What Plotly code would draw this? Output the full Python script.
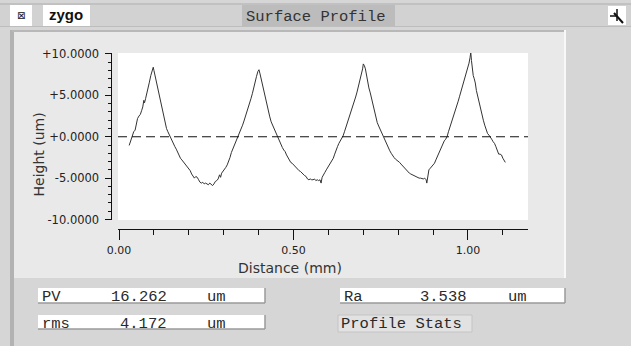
import plotly.graph_objects as go

W, H = 631, 346

# ---------------- data ----------------
distance_mm = [
    0.029, 0.034, 0.038, 0.042, 0.046, 0.050, 0.053, 0.057, 0.061, 0.065, 0.068, 0.071, 0.073, 0.076,
    0.080, 0.084, 0.087, 0.091, 0.095, 0.098, 0.100, 0.104, 0.108, 0.112, 0.116, 0.120, 0.124, 0.128,
    0.132, 0.136, 0.140, 0.144, 0.148, 0.152, 0.156, 0.160, 0.164, 0.168, 0.172, 0.176, 0.180, 0.184,
    0.188, 0.192, 0.196, 0.200, 0.204, 0.208, 0.212, 0.216, 0.220, 0.224, 0.228, 0.232, 0.236, 0.240,
    0.244, 0.248, 0.252, 0.256, 0.260, 0.264, 0.268, 0.272, 0.276, 0.280, 0.284, 0.288, 0.291, 0.294,
    0.298, 0.302, 0.306, 0.310, 0.314, 0.318, 0.322, 0.326, 0.330, 0.334, 0.338, 0.342, 0.346, 0.350,
    0.354, 0.358, 0.362, 0.366, 0.370, 0.374, 0.378, 0.382, 0.386, 0.390, 0.394, 0.398, 0.401, 0.404,
    0.408, 0.412, 0.416, 0.420, 0.424, 0.428, 0.432, 0.436, 0.440, 0.444, 0.448, 0.452, 0.456, 0.460,
    0.464, 0.468, 0.472, 0.476, 0.480, 0.484, 0.488, 0.492, 0.496, 0.500, 0.504, 0.508, 0.512, 0.516,
    0.520, 0.524, 0.528, 0.532, 0.536, 0.540, 0.544, 0.548, 0.552, 0.556, 0.560, 0.564, 0.568, 0.572,
    0.576, 0.579, 0.582, 0.586, 0.590, 0.594, 0.598, 0.602, 0.606, 0.610, 0.614, 0.618, 0.622, 0.626,
    0.630, 0.634, 0.638, 0.642, 0.646, 0.650, 0.654, 0.658, 0.662, 0.666, 0.670, 0.674, 0.678, 0.682,
    0.686, 0.690, 0.694, 0.698, 0.700, 0.703, 0.706, 0.709, 0.712, 0.716, 0.720, 0.724, 0.728, 0.732,
    0.736, 0.740, 0.744, 0.748, 0.752, 0.756, 0.760, 0.764, 0.768, 0.772, 0.776, 0.780, 0.784, 0.788,
    0.792, 0.796, 0.800, 0.804, 0.808, 0.812, 0.816, 0.820, 0.824, 0.828, 0.832, 0.836, 0.840, 0.844,
    0.848, 0.852, 0.856, 0.860, 0.864, 0.868, 0.872, 0.876, 0.880, 0.882, 0.885, 0.888, 0.892, 0.896,
    0.900, 0.904, 0.908, 0.912, 0.916, 0.920, 0.924, 0.928, 0.932, 0.936, 0.940, 0.944, 0.948, 0.952,
    0.956, 0.960, 0.964, 0.968, 0.972, 0.976, 0.980, 0.984, 0.988, 0.992, 0.996, 1.000, 1.003, 1.006,
    1.008, 1.010, 1.012, 1.015, 1.018, 1.021, 1.024, 1.028, 1.032, 1.036, 1.040, 1.044, 1.048, 1.052,
    1.056, 1.060, 1.064, 1.068, 1.072, 1.076, 1.080, 1.084, 1.088, 1.092, 1.096, 1.100, 1.104, 1.107,
]
height_um = [
    -1.05, -0.3, 0.2, 0.6, 0.8, 1.5, 2.2, 2.5, 2.7, 3.2, 3.6, 4.4, 4.1, 4.6,
    5.5, 6.2, 6.6, 7.4, 8.0, 8.4, 8.0, 7.2, 6.6, 5.6, 4.7, 3.9, 3.0, 2.2,
    1.4, 1.0, 0.6, 0.2, -0.1, -0.4, -0.8, -1.2, -1.5, -1.9, -2.2, -2.6, -2.8, -3.0,
    -3.2, -3.4, -3.6, -3.8, -4.1, -4.5, -4.8, -5.0, -4.8, -4.9, -5.2, -5.5, -5.6, -5.5,
    -5.7, -5.6, -5.7, -5.8, -5.6, -5.8, -5.9, -5.7, -5.4, -5.3, -5.1, -4.6, -4.9, -4.4,
    -4.2, -3.9, -3.7, -3.4, -3.0, -2.5, -1.9, -1.5, -1.1, -0.6, -0.3, 0.1, 0.4, 0.9,
    1.4, 1.9, 2.4, 2.9, 3.4, 4.0, 4.6, 5.2, 6.0, 6.7, 7.3, 7.9, 8.1, 7.6,
    6.8, 6.0, 5.3, 4.5, 3.8, 3.2, 2.4, 1.8, 1.4, 0.9, 0.6, 0.1, -0.3, -0.6,
    -0.9, -1.3, -1.6, -1.8, -2.2, -2.5, -2.8, -3.1, -3.2, -3.4, -3.6, -3.7, -3.9, -4.1,
    -4.2, -4.4, -4.5, -4.7, -4.8, -5.1, -5.2, -5.1, -5.2, -5.2, -5.1, -5.3, -5.2, -5.3,
    -5.2, -5.6, -4.9, -4.5, -4.3, -4.0, -3.7, -3.4, -3.1, -2.9, -2.6, -2.1, -1.5, -1.2,
    -0.8, -0.5, -0.2, 0.1, 0.6, 1.1, 1.6, 2.1, 2.6, 3.1, 3.6, 4.2, 4.8, 5.4,
    6.1, 6.7, 7.3, 8.2, 8.8, 8.6, 8.2, 7.4, 6.6, 5.9, 5.3, 4.6, 3.8, 3.0,
    2.2, 1.7, 1.3, 0.9, 0.5, 0.1, -0.3, -0.7, -1.0, -1.3, -1.7, -2.0, -2.3, -2.5,
    -2.7, -2.8, -3.0, -3.1, -3.3, -3.5, -3.7, -3.9, -4.0, -4.2, -4.4, -4.5, -4.6, -4.7,
    -4.8, -4.8, -4.9, -5.0, -5.0, -5.1, -5.1, -5.0, -5.2, -5.6, -4.6, -4.0, -3.8, -3.6,
    -3.4, -3.2, -2.8, -2.4, -2.0, -1.6, -1.2, -0.8, -0.5, -0.3, 0.0, 0.6, 1.1, 1.6,
    2.1, 2.6, 3.1, 3.7, 4.3, 4.9, 5.5, 6.0, 6.6, 7.2, 7.7, 8.3, 8.9, 9.6,
    10.2, 9.2, 8.0, 7.4, 7.0, 6.5, 5.6, 4.8, 4.0, 3.2, 2.6, 2.0, 1.4, 0.9,
    0.4, 0.2, 0.0, -0.3, -0.6, -0.8, -1.2, -1.6, -2.1, -2.1, -2.2, -2.6, -2.9, -3.1,
]

y_tick_vals = [-10, -5, 0, 5, 10]
y_tick_text = ["-10.0000", "-5.0000", "+0.0000", "+5.0000", "+10.0000"]
y_minor_vals = [-9, -8, -7, -6, -4, -3, -2, -1, 1, 2, 3, 4, 6, 7, 8, 9]
x_tick_vals = [0.0, 0.5, 1.0]
x_tick_text = ["0.00", "0.50", "1.00"]
x_minor_vals = [0.1, 0.2, 0.3, 0.4, 0.6, 0.7, 0.8, 0.9, 1.1]

window_title = "Surface Profile"
brand = "zygo"
x_title = "Distance (mm)"
y_title = "Height (um)"
stats_left = [("PV", "16.262", "um"), ("rms", "4.172", "um")]
stats_right = [("Ra", "3.538", "um")]
stats_button = "Profile Stats"


# ---------------- helpers (pixel -> paper) ----------------
def px(x):
    return x / W


def py(y):
    return 1 - y / H


shapes = []


def rect(x0, y0, x1, y1, fill, line=None, lw=0):
    shapes.append(dict(type="rect", xref="paper", yref="paper",
                       x0=px(x0), x1=px(x1), y0=py(y1), y1=py(y0),
                       fillcolor=fill, line=dict(width=lw, color=line or fill),
                       layer="below"))


def seg(x0, y0, x1, y1, color, lw=1):
    shapes.append(dict(type="line", xref="paper", yref="paper",
                       x0=px(x0), x1=px(x1), y0=py(y0), y1=py(y1),
                       line=dict(width=lw, color=color), layer="above"))


annotations = []


def text(x, y, s, size, family, color="#2a2a2a", xanchor="center", angle=0, bold=False):
    annotations.append(dict(x=px(x), y=py(y), xref="paper", yref="paper", text=s,
                            showarrow=False, xanchor=xanchor, yanchor="middle",
                            textangle=angle,
                            font=dict(size=size, family=family, color=color,
                                      weight="bold" if bold else "normal"),
                            borderpad=0))


MONO = "Liberation Mono, DejaVu Sans Mono, monospace"
SANS = "DejaVu Sans, Liberation Sans, sans-serif"

# ---------------- window chrome ----------------
# title bar
rect(0, 3, W, 27, "#d2d2d2")
seg(0, 4, W, 4, "#b0b0b0", 1)
seg(0, 26.5, W, 26.5, "#bdbdbd", 1)
rect(10, 5, 32, 26, "#ffffff")
rect(43, 5, 90, 26, "#ffffff")
rect(242, 5, 395, 26, "#bcbcbc")
rect(608, 6, 626, 25, "#ffffff")
# main panel
rect(12, 30, 565, 278, "#e9e9e9")
seg(12, 31, 565, 31, "#b8b8b8", 2)
seg(565, 30, 565, 278, "#f8f8f8", 2)
rect(10, 30, 14, H, "#b2b2b2")


# stat boxes
def box(x0, y0, x1, y1, fill="#ffffff"):
    rect(x0, y0, x1, y1, fill)
    seg(x0, y1, x1, y1, "#9a9a9a", 1.5)
    seg(x1, y0, x1, y1, "#9a9a9a", 1.5)


box(38, 288, 265, 303)
box(38, 315, 265, 329)
box(340, 288, 565, 303)
rect(338, 315, 472, 332, "#e2e2e2", "#c4c4c4", 1)

# icons in title bar
text(21, 16, "⊠", 10, SANS, color="#111111")
seg(610, 16, 617, 16, "#111111", 1.5)
seg(617, 9, 617, 21, "#111111", 1.5)
seg(614, 13, 623, 23, "#111111", 2)

# title texts
text(66, 15, brand, 15, "Liberation Sans, Arial, sans-serif", color="#111111", bold=True)
text(316, 17, window_title, 15.5, MONO, color="#333333")

# stats texts
rows_y = [297, 324]
for (lab, val, unit), yy in zip(stats_left, rows_y):
    text(41, yy, lab, 15.5, MONO, xanchor="left")
    text(168, yy, val, 15.5, MONO, xanchor="right")
    text(206, yy, unit, 15.5, MONO, xanchor="left")
for (lab, val, unit), yy in zip(stats_right, rows_y):
    text(343, yy, lab, 15.5, MONO, xanchor="left")
    text(468, yy, val, 15.5, MONO, xanchor="right")
    text(507, yy, unit, 15.5, MONO, xanchor="left")
text(340, 324, stats_button, 15.5, MONO, xanchor="left")

# axis titles
text(289.5, 267.5, x_title, 14, SANS, color="#333333")
text(38.5, 155, y_title, 14, SANS, color="#333333", angle=-90)

# plot area background (subplot layer, above paper shapes)
shapes.append(dict(type="rect", xref="x domain", yref="y domain", x0=0, x1=1, y0=0, y1=1,
                   fillcolor="#ffffff", line=dict(width=0), layer="below"))
# zero reference line
shapes.append(dict(type="line", xref="x domain", yref="y", x0=0, x1=1, y0=0, y1=0,
                   line=dict(width=1, color="#111111", dash="9px,5px"), layer="above"))

fig = go.Figure()
fig.add_trace(go.Scatter(x=distance_mm, y=height_um, mode="lines",
                         line=dict(color="#333333", width=1), hoverinfo="skip",
                         showlegend=False))

tickfont = dict(family=SANS, size=11, color="#222222")
fig.update_layout(
    width=W, height=H,
    margin=dict(l=0, r=0, t=0, b=0, autoexpand=False),
    paper_bgcolor="#d6d6d6",
    plot_bgcolor="rgba(0,0,0,0)",
    showlegend=False,
    shapes=shapes,
    annotations=annotations,
    xaxis=dict(domain=[px(118), px(528)], range=[-0.003, 1.172],
               anchor="free", position=py(228.5), automargin=False,
               showline=True, linecolor="#111111", linewidth=1,
               showgrid=False, zeroline=False,
               ticks="outside", ticklen=10, tickwidth=1, tickcolor="#111111",
               tickmode="array", tickvals=x_tick_vals, ticktext=x_tick_text,
               tickfont=tickfont, ticklabelstandoff=1,
               minor=dict(tickmode="array", tickvals=x_minor_vals, ticks="outside",
                          ticklen=5, tickwidth=1, tickcolor="#111111", showgrid=False),
               fixedrange=True),
    yaxis=dict(domain=[py(220), py(53)], range=[-10.06, 10.12],
               anchor="free", position=px(110.5), automargin=False,
               showline=True, linecolor="#111111", linewidth=1,
               showgrid=False, zeroline=False,
               ticks="outside", ticklen=6, tickwidth=1, tickcolor="#111111",
               tickmode="array", tickvals=y_tick_vals, ticktext=y_tick_text,
               tickfont=dict(family=SANS, size=11.5, color="#222222"), ticklabelstandoff=3,
               minor=dict(tickmode="array", tickvals=y_minor_vals, ticks="outside",
                          ticklen=3, tickwidth=1, tickcolor="#111111", showgrid=False),
               fixedrange=True),
)

fig.write_html("out.html")
